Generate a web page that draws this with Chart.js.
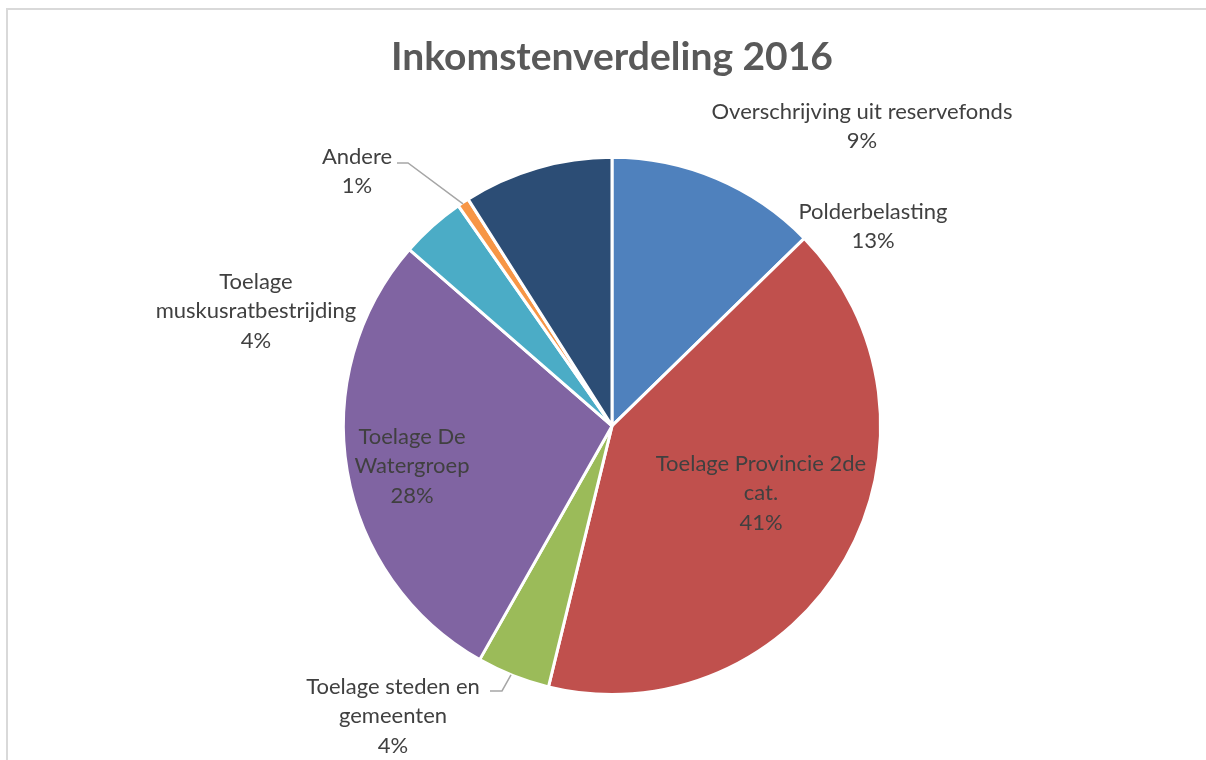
<!DOCTYPE html>
<html>
<head>
<meta charset="utf-8">
<title>Inkomstenverdeling 2016</title>
<script src="https://cdn.jsdelivr.net/npm/chart.js@4/dist/chart.umd.min.js"></script>
<style>
  html, body { margin: 0; padding: 0; background: #fff; }
  #wrap { position: relative; width: 1206px; height: 760px; }
</style>
</head>
<body>
<div id="wrap"><canvas id="chart"></canvas></div>
<script>
// Chart data
const categories = [
    'Polderbelasting',
    'Toelage Provincie 2de cat.',
    'Toelage steden en gemeenten',
    'Toelage De Watergroep',
    'Toelage muskusratbestrijding',
    'Andere',
    'Overschrijving uit reservefonds'
];
const shares = [12.7, 41.1, 4.4, 28.2, 3.9, 0.7, 9.0];
const percentLabels = ['13%', '41%', '4%', '28%', '4%', '1%', '9%'];
const colors = ['#4F81BD', '#C0504D', '#9BBB59', '#8064A2', '#4BACC6', '#F79646', '#2C4D75'];

// Label layout: wrapped lines and offset from pie centre (dx, first line dy)
const labelLayout = [
    { lines: ['Polderbelasting'], dx: 261, dy: -214 },
    { lines: ['Toelage Provincie 2de', 'cat.'], dx: 149, dy: 38 },
    { lines: ['Toelage steden en', 'gemeenten'], dx: -219, dy: 261, leader: [[-101, 249], [-110, 265], [-122, 265]] },
    { lines: ['Toelage De', 'Watergroep'], dx: -200, dy: 11 },
    { lines: ['Toelage', 'muskusratbestrijding'], dx: -356, dy: -144 },
    { lines: ['Andere'], dx: -255, dy: -269, leader: [[-149, -222], [-204, -263], [-215, -263]] },
    { lines: ['Overschrijving uit reservefonds'], dx: 250, dy: -314 }
];

const FONT = 'Lato, "Open Sans", sans-serif';
const LINE_H = 29.5;

// Frame + data labels
const labelPlugin = {
    id: 'pieLabels',
    beforeDraw(chart) {
        const ctx = chart.ctx;
        ctx.save();
        ctx.strokeStyle = '#D9D9D9';
        ctx.lineWidth = 2;
        ctx.beginPath();
        ctx.moveTo(7, chart.height);
        ctx.lineTo(7, 9);
        ctx.lineTo(chart.width, 9);
        ctx.stroke();
        ctx.restore();
    },
    afterDatasetsDraw(chart) {
        const ctx = chart.ctx;
        const arcs = chart.getDatasetMeta(0).data;
        ctx.save();
        ctx.font = '22px ' + FONT;
        ctx.fillStyle = '#404040';
        ctx.textAlign = 'center';
        ctx.textBaseline = 'middle';
        arcs.forEach((arc, i) => {
            const cx = arc.x, cy = arc.y;
            const lay = labelLayout[i];
            if (lay.leader) {
                ctx.strokeStyle = '#A6A6A6';
                ctx.lineWidth = 1.5;
                ctx.beginPath();
                lay.leader.forEach((p, j) => {
                    if (j === 0) ctx.moveTo(cx + p[0], cy + p[1]);
                    else ctx.lineTo(cx + p[0], cy + p[1]);
                });
                ctx.stroke();
            }
            const lines = lay.lines.concat([percentLabels[i]]);
            lines.forEach((t, j) => {
                ctx.fillText(t, cx + lay.dx, cy + lay.dy + j * LINE_H);
            });
        });
        ctx.restore();
    }
};

new Chart(document.getElementById('chart'), {
    type: 'pie',
    data: {
        labels: categories,
        datasets: [{
            data: shares,
            backgroundColor: colors,
            borderColor: '#FFFFFF',
            borderWidth: 3
        }]
    },
    options: {
        responsive: true,
        maintainAspectRatio: false,
        animation: false,
        layout: {
            padding: { left: 18, right: 0, top: 0, bottom: 64 }
        },
        plugins: {
            legend: { display: false },
            tooltip: { enabled: false },
            title: {
                display: true,
                text: 'Inkomstenverdeling 2016',
                color: '#595959',
                font: { family: FONT, size: 39, weight: 'bold' },
                padding: { top: 34, bottom: 75 }
            }
        }
    },
    plugins: [labelPlugin]
});
</script>
</body>
</html>
